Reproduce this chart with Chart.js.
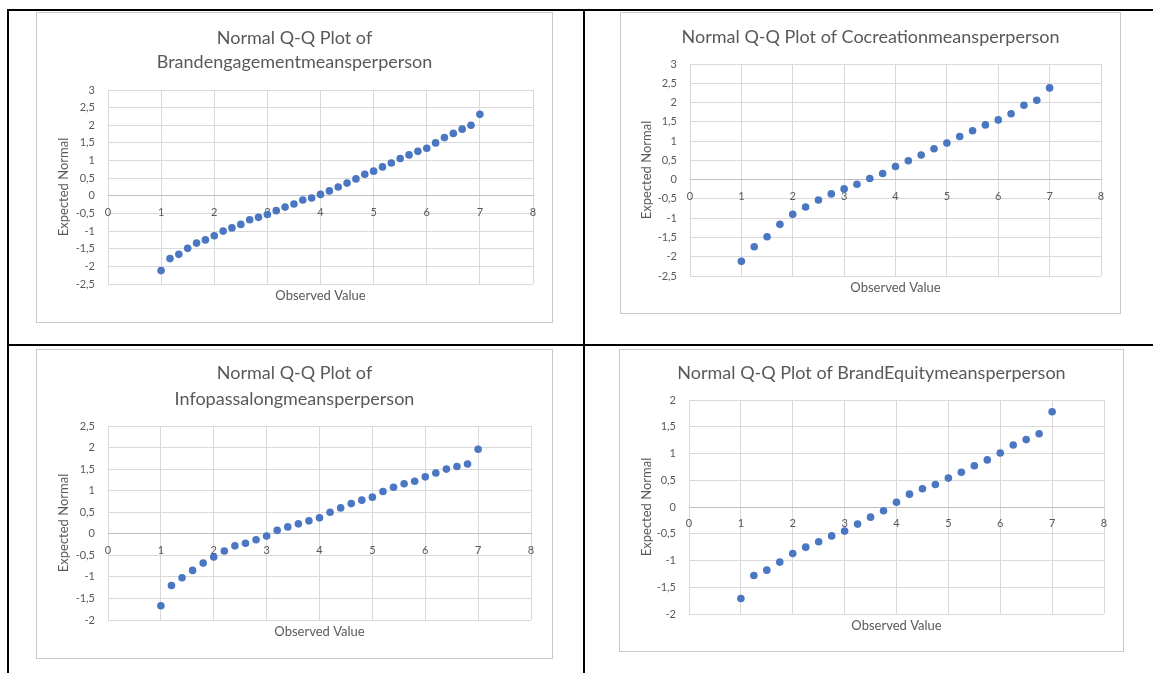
<!DOCTYPE html>
<html><head><meta charset="utf-8">
<script src="https://cdn.jsdelivr.net/npm/chart.js@4.4.1/dist/chart.umd.min.js"></script>
<style>
html,body{margin:0;padding:0;background:#fff;}
body{width:1153px;height:673px;overflow:hidden;position:relative;font-family:Lato,sans-serif;}
.rule{position:absolute;background:#000;}
.box{position:absolute;box-sizing:border-box;border:1px solid #c9c9c9;background:#fff;}
.box canvas{position:absolute;left:0;top:0;}
</style></head><body>
<div class="rule" style="left:7px;top:9px;width:1146px;height:2px"></div>
<div class="rule" style="left:7px;top:9px;width:2px;height:664px"></div>
<div class="rule" style="left:583px;top:9px;width:2px;height:664px"></div>
<div class="rule" style="left:8px;top:344px;width:1145px;height:2px"></div>

<div class="box" style="left:36px;top:12px;width:517px;height:311px"><canvas id="c1" width="515" height="309"></canvas></div>
<div class="box" style="left:620px;top:12px;width:501px;height:302px"><canvas id="c2" width="499" height="300"></canvas></div>
<div class="box" style="left:36px;top:349px;width:517px;height:310px"><canvas id="c3" width="515" height="308"></canvas></div>
<div class="box" style="left:619px;top:349px;width:505px;height:303px"><canvas id="c4" width="503" height="301"></canvas></div>

<script>
// ---------- data ----------
const xTickValues = [0, 1, 2, 3, 4, 5, 6, 7, 8];
const xAxisTitle = "Observed Value";
const yAxisTitle = "Expected Normal";

const brandEngagementTitle = ["Normal Q-Q Plot of", "Brandengagementmeansperperson"];
const brandEngagementObserved = [1, 1.167, 1.333, 1.5, 1.667, 1.833, 2, 2.167, 2.333, 2.5, 2.667, 2.833, 3, 3.167, 3.333, 3.5, 3.667, 3.833, 4, 4.167, 4.333, 4.5, 4.667, 4.833, 5, 5.167, 5.333, 5.5, 5.667, 5.833, 6, 6.167, 6.333, 6.5, 6.667, 6.833, 7];
const brandEngagementExpected = [-2.12, -1.78, -1.66, -1.49, -1.34, -1.25, -1.13, -1.00, -0.91, -0.81, -0.68, -0.61, -0.53, -0.42, -0.32, -0.23, -0.12, -0.06, 0.04, 0.14, 0.25, 0.36, 0.48, 0.61, 0.70, 0.82, 0.93, 1.06, 1.16, 1.26, 1.35, 1.50, 1.65, 1.77, 1.89, 2.00, 2.31];
const brandEngagementYTicks = [-2.5, 3];

const cocreationTitle = ["Normal Q-Q Plot of Cocreationmeansperperson"];
const cocreationObserved = [1, 1.25, 1.5, 1.75, 2, 2.25, 2.5, 2.75, 3, 3.25, 3.5, 3.75, 4, 4.25, 4.5, 4.75, 5, 5.25, 5.5, 5.75, 6, 6.25, 6.5, 6.75, 7];
const cocreationExpected = [-2.12, -1.74, -1.48, -1.16, -0.90, -0.71, -0.53, -0.37, -0.24, -0.12, 0.03, 0.16, 0.34, 0.49, 0.64, 0.80, 0.95, 1.12, 1.27, 1.42, 1.55, 1.71, 1.93, 2.06, 2.38];
const cocreationYTicks = [-2.5, 3];

const infoPassTitle = ["Normal Q-Q Plot of", "Infopassalongmeansperperson"];
const infoPassObserved = [1, 1.2, 1.4, 1.6, 1.8, 2, 2.2, 2.4, 2.6, 2.8, 3, 3.2, 3.4, 3.6, 3.8, 4, 4.2, 4.4, 4.6, 4.8, 5, 5.2, 5.4, 5.6, 5.8, 6, 6.2, 6.4, 6.6, 6.8, 7];
const infoPassExpected = [-1.67, -1.20, -1.02, -0.85, -0.68, -0.54, -0.40, -0.28, -0.22, -0.14, -0.05, 0.08, 0.16, 0.23, 0.30, 0.37, 0.50, 0.60, 0.70, 0.78, 0.85, 0.98, 1.08, 1.16, 1.22, 1.32, 1.41, 1.50, 1.56, 1.62, 1.96];
const infoPassYTicks = [-2, 2.5];

const brandEquityTitle = ["Normal Q-Q Plot of BrandEquitymeansperperson"];
const brandEquityObserved = [1, 1.25, 1.5, 1.75, 2, 2.25, 2.5, 2.75, 3, 3.25, 3.5, 3.75, 4, 4.25, 4.5, 4.75, 5, 5.25, 5.5, 5.75, 6, 6.25, 6.5, 6.75, 7];
const brandEquityExpected = [-1.71, -1.28, -1.18, -1.03, -0.87, -0.75, -0.65, -0.54, -0.45, -0.32, -0.19, -0.07, 0.09, 0.24, 0.34, 0.42, 0.54, 0.65, 0.77, 0.88, 1.01, 1.16, 1.26, 1.37, 1.78];
const brandEquityYTicks = [-2, 2];

// ---------- drawing ----------
const TEXT = '#595959';
const FONT = 'Lato, "Open Sans", sans-serif';

const textPlugin = {
  id: 'qqText',
  afterDraw(chart, args, o) {
    const ctx = chart.ctx, a = chart.chartArea;
    ctx.save();
    ctx.fillStyle = TEXT;
    ctx.textAlign = 'center';
    ctx.textBaseline = 'alphabetic';
    ctx.font = o.titleSize + 'px ' + FONT;
    o.title.forEach((t, i) => ctx.fillText(t, chart.width / 2, o.titleBase[i]));
    ctx.font = o.axisSize + 'px ' + FONT;
    ctx.textBaseline = 'middle';
    ctx.fillText(xAxisTitle, (a.left + a.right) / 2, a.bottom + 12);
    ctx.translate(o.yTitleX, (a.top + a.bottom) / 2);
    ctx.rotate(-Math.PI / 2);
    ctx.fillText(yAxisTitle, 0, 0);
    ctx.restore();
  }
};

function makeChart(id, title, xs, ys, yRange, lay) {
  const pts = xs.map((x, i) => ({x: x, y: ys[i]}));
  return new Chart(document.getElementById(id), {
    type: 'scatter',
    data: {datasets: [{data: pts, backgroundColor: '#4a76c2', borderColor: '#4a76c2', pointRadius: 3.8, pointBorderWidth: 0}]},
    plugins: [textPlugin],
    options: {
      responsive: false,
      animation: false,
      events: [],
      layout: {padding: {top: lay.top, right: lay.right, bottom: lay.bottom, left: 0}},
      plugins: {
        legend: {display: false},
        tooltip: {enabled: false},
        qqText: {title: title, titleBase: lay.titleBase, titleSize: 18, axisSize: 13, yTitleX: lay.yTitleX}
      },
      scales: {
        x: {
          type: 'linear',
          position: {y: 0},
          min: xTickValues[0], max: xTickValues[xTickValues.length - 1],
          afterBuildTicks: s => { s.ticks = xTickValues.map(v => ({value: v})); },
          ticks: {color: TEXT, font: {family: FONT, size: 11}, padding: 10, maxRotation: 0, autoSkip: false},
          grid: {color: '#d9d9d9', drawTicks: false, lineWidth: 1},
          border: {color: '#bfbfbf', width: 1},
          afterFit: s => { s.paddingLeft = 0; s.paddingRight = 0; s.paddingTop = 0; s.paddingBottom = 0; }
        },
        y: {
          type: 'linear',
          min: yRange[0], max: yRange[1],
          ticks: {stepSize: 0.5, color: TEXT, font: {family: FONT, size: 11}, padding: 13,
                  callback: v => String(v).replace('.', ',')},
          grid: {color: '#d9d9d9', drawTicks: false, lineWidth: 1},
          border: {display: false},
          afterFit: s => { s.width = lay.left; s.paddingTop = 0; s.paddingBottom = 0; s.paddingLeft = 0; s.paddingRight = 0; }
        }
      }
    }
  });
}

makeChart('c1', brandEngagementTitle, brandEngagementObserved, brandEngagementExpected, brandEngagementYTicks,
  {left: 71, top: 77, right: 19, bottom: 38, titleBase: [31, 55], yTitleX: 27});
makeChart('c2', cocreationTitle, cocreationObserved, cocreationExpected, cocreationYTicks,
  {left: 69, top: 51, right: 19, bottom: 37, titleBase: [30], yTitleX: 26});
makeChart('c3', infoPassTitle, infoPassObserved, infoPassExpected, infoPassYTicks,
  {left: 71, top: 76, right: 21, bottom: 38, titleBase: [29, 55], yTitleX: 27});
makeChart('c4', brandEquityTitle, brandEquityObserved, brandEquityExpected, brandEquityYTicks,
  {left: 69, top: 50, right: 19, bottom: 37, titleBase: [29], yTitleX: 27});
</script>
</body></html>
